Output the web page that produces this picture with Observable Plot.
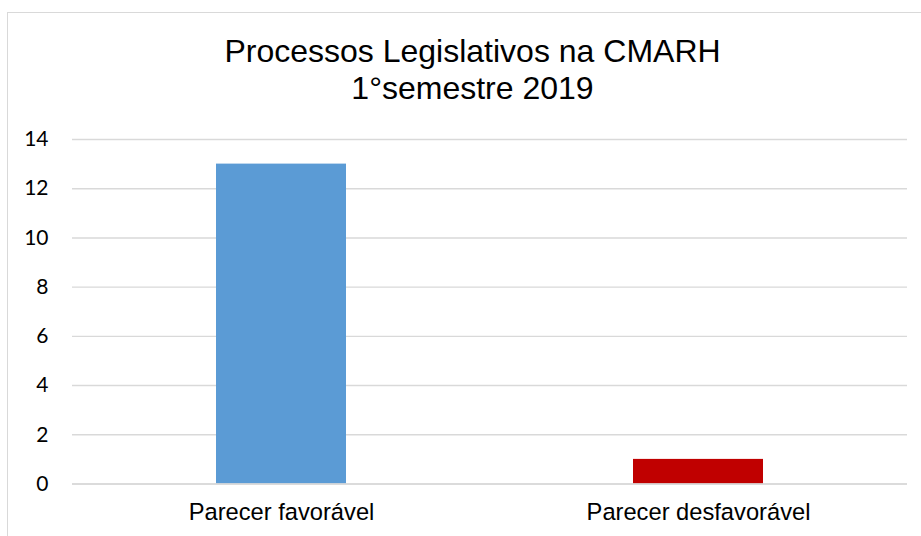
<!DOCTYPE html>
<html>
<head>
<meta charset="utf-8">
<script src="https://cdn.jsdelivr.net/npm/d3@7"></script>
<script src="https://cdn.jsdelivr.net/npm/@observablehq/plot@0.6"></script>
<style>
  html, body { margin: 0; padding: 0; background: #fff; overflow: hidden; }
  #frame {
    position: absolute; left: 7px; top: 12px; width: 930px; height: 540px;
    border: 1px solid #d9d9d9; border-right: none; border-bottom: none; box-sizing: border-box;
  }
  #title {
    width: 929px; padding-top: 20px; text-align: center;
    font-family: "Liberation Sans", Arial, sans-serif; font-size: 32px; line-height: 37px; color: #000;
  }
  #chart svg { display: block; }
</style>
</head>
<body>
<div id="frame">
  <div id="title">Processos Legislativos na CMARH<br>1°semestre 2019</div>
  <div id="chart"></div>
</div>
<script>
const categories = ["Parecer favorável", "Parecer desfavorável"];
const values = [13, 1];
const barColors = ["#5B9BD5", "#C00000"];
const yTicks = [0, 2, 4, 6, 8, 10, 12, 14];

const data = categories.map((c, i) => ({category: c, value: values[i], color: barColors[i]}));

const chart = Plot.plot({
  width: 913,
  height: 429,
  marginTop: 32,
  marginBottom: 52.5,
  marginLeft: 64,
  marginRight: 14,
  x: {domain: categories, paddingInner: 0.689, paddingOuter: 0.3445, label: null},
  y: {domain: [0, 14], label: null},
  style: {background: "transparent", color: "#000"},
  marks: [
    Plot.gridY(yTicks, {stroke: "#d9d9d9", strokeOpacity: 1, strokeWidth: 1.4}),
    Plot.barY(data, {x: "category", y: "value", fill: "color"}),
    Plot.ruleY([0], {stroke: "#d9d9d9", strokeWidth: 1.4}),
    Plot.axisY(yTicks, {tickSize: 0, tickPadding: 24, fontSize: 21, fontFamily: "Lato, Carlito, sans-serif", fill: "#000", label: null}),
    Plot.axisX({tickSize: 0, tickPadding: 19, fontSize: 23.7, fontFamily: "Liberation Sans, Arial, sans-serif", fill: "#000", label: null})
  ]
});
document.getElementById("chart").appendChild(chart);
</script>
</body>
</html>
